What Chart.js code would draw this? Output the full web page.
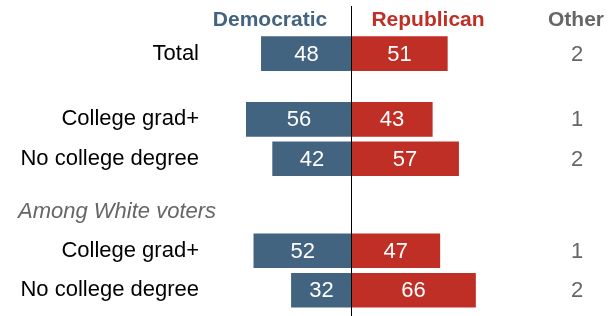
<!DOCTYPE html>
<html>
<head>
<meta charset="utf-8">
<script src="https://cdn.jsdelivr.net/npm/chart.js@4"></script>
<style>
  html, body { margin: 0; padding: 0; background: #fff; }
</style>
</head>
<body>
<canvas id="chart" width="615" height="316"></canvas>
<script>
// Rows, top to bottom
const rowLabels = ['Total', 'College grad+', 'No college degree', 'College grad+', 'No college degree'];
const demValues = [48, 56, 42, 52, 32];
const repValues = [51, 43, 57, 47, 66];
const otherValues = [2, 1, 2, 1, 2];
const seriesNames = ['Democratic', 'Republican', 'Other'];
const subheadLabel = 'Among White voters';

// Layout: rows sit on a finer grid of slots so the gaps between groups match
const rowSlots = [0, 5, 8, 15, 18];
const subheadSlot = 12;
const slotCount = 19;

const FONT = '"Liberation Sans", Arial, sans-serif';
const DEM_COLOR = '#436481';
const REP_COLOR = '#bf2f25';
const GRAY = '#666666';

// Spread the rows out over the slots
const slotLabels = Array(slotCount).fill('');
const demSlots = Array(slotCount).fill(null);
const repSlots = Array(slotCount).fill(null);
rowSlots.forEach((s, i) => {
    slotLabels[s] = rowLabels[i];
    demSlots[s] = -demValues[i];
    repSlots[s] = repValues[i];
});

// Value labels, Other column, headers and the zero line
const annotations = {
    id: 'annotations',
    afterDatasetsDraw(chart) {
        const ctx = chart.ctx;
        const xs = chart.scales.x;
        const ys = chart.scales.y;
        ctx.save();
        ctx.textBaseline = 'middle';

        // numbers inside bars
        ctx.font = '22px ' + FONT;
        ctx.textAlign = 'center';
        ctx.fillStyle = '#fff';
        chart.data.datasets.forEach((ds, di) => {
            chart.getDatasetMeta(di).data.forEach((bar, i) => {
                if (ds.data[i] === null) return;
                ctx.fillText(Math.abs(ds.data[i]), (bar.x + bar.base) / 2, bar.y + 1);
            });
        });

        // Other column
        ctx.fillStyle = GRAY;
        rowSlots.forEach((s, i) => {
            ctx.fillText(otherValues[i], 577, ys.getPixelForValue(s) + 1);
        });

        // column headers
        ctx.font = 'bold 21px ' + FONT;
        ctx.fillStyle = DEM_COLOR;
        ctx.fillText(seriesNames[0], 270, 20);
        ctx.fillStyle = REP_COLOR;
        ctx.fillText(seriesNames[1], 428, 20);
        ctx.fillStyle = GRAY;
        ctx.fillText(seriesNames[2], 576, 20);

        // subgroup heading
        ctx.font = 'italic 22px ' + FONT;
        ctx.textAlign = 'left';
        ctx.fillStyle = GRAY;
        ctx.fillText(subheadLabel, 18, ys.getPixelForValue(subheadSlot) + 1);

        // zero line
        const zx = Math.floor(xs.getPixelForValue(0)) + 0.5;
        ctx.strokeStyle = '#000';
        ctx.lineWidth = 1;
        ctx.beginPath();
        ctx.moveTo(zx, 6);
        ctx.lineTo(zx, 316);
        ctx.stroke();
        ctx.restore();
    }
};

new Chart(document.querySelector('#chart'), {
    type: 'bar',
    data: {
        labels: slotLabels,
        datasets: [
            { label: seriesNames[0], data: demSlots, backgroundColor: DEM_COLOR, barThickness: 34, clip: false },
            { label: seriesNames[1], data: repSlots, backgroundColor: REP_COLOR, barThickness: 34, clip: false }
        ]
    },
    options: {
        indexAxis: 'y',
        responsive: false,
        animation: false,
        devicePixelRatio: 1,
        layout: { padding: { top: 47, bottom: 19, left: 0, right: 8 } },
        scales: {
            x: { display: false, stacked: true, min: -78, max: 136 },
            y: {
                stacked: true,
                grid: { display: false, drawTicks: false },
                border: { display: false },
                ticks: { autoSkip: false, padding: 6, color: '#000', font: { family: FONT, size: 22 } },
                afterFit(scale) { scale.width = 205; }
            }
        },
        plugins: {
            legend: { display: false },
            tooltip: { enabled: false }
        }
    },
    plugins: [annotations]
});
</script>
</body>
</html>
